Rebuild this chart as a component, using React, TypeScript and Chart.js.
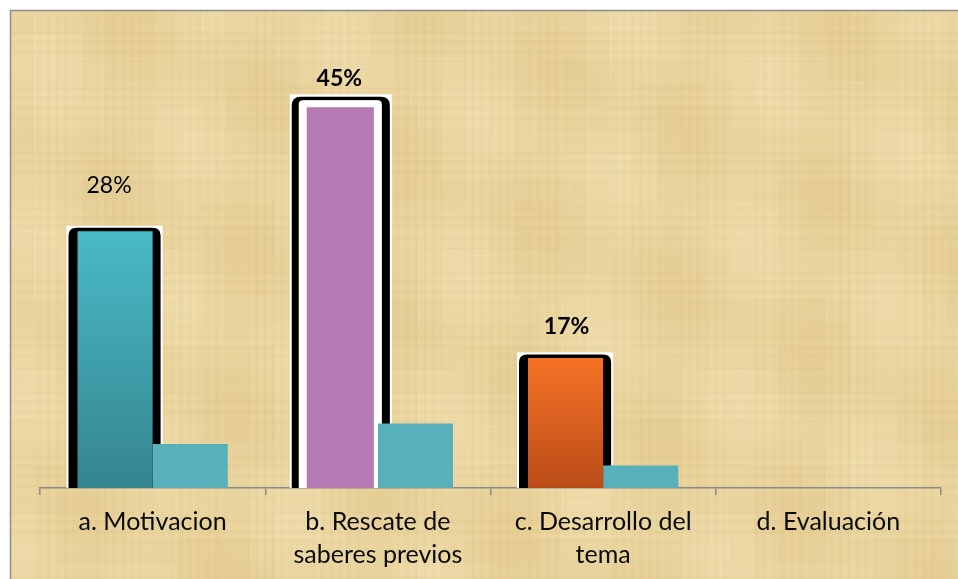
import { useEffect, useRef } from "react";
import { Chart, registerables } from "chart.js";

Chart.register(...registerables);

// ---- data ----
const categories = [
  ["a. Motivacion"],
  ["b. Rescate de", "saberes previos"],
  ["c. Desarrollo del", "tema"],
  ["d. Evaluación"],
];
const mainValues = [29.8, 45.0, 15.1, null];
const secondValues = [5.1, 7.5, 2.6, null];
const mainLabels = ["28%", "45%", "17%", ""];
const labelBold = [false, true, true, false];

// ---- styles ----
const mainFills: (string[] | null)[] = [
  ["#49bac7", "#35858f"],
  ["#b57ab4", "#b57ab4"],
  ["#f57226", "#bb4c19"],
  null,
];
const secondColor = "#58b0bb";
const labelOffsets = [
  { dx: -6, dy: -46 },
  { dx: -1, dy: -22 },
  { dx: 1, dy: -31 },
  { dx: 0, dy: -20 },
];
const FONT = "Lato, 'Open Sans', sans-serif";

function drawParchment(ctx: CanvasRenderingContext2D, x: number, y: number, w: number, h: number) {
  ctx.fillStyle = "#ecd7a2";
  ctx.fillRect(x, y, w, h);
  const B = 24;
  for (let bx = 0; bx < w; bx += B) {
    for (let by = 0; by < h; by += B) {
      const v = Math.sin(bx * 0.013 + by * 0.021) * Math.cos(bx * 0.031 - by * 0.017);
      ctx.fillStyle = v > 0 ? `rgba(255,244,210,${v * 0.22})` : `rgba(205,165,85,${-v * 0.12})`;
      ctx.fillRect(x + bx, y + by, B, B);
    }
  }
  for (let i = 0; i < w; i += 2) {
    const a = 0.035 + 0.05 * Math.sin(i * 0.71) * Math.sin(i * 0.043);
    if (a > 0) {
      ctx.fillStyle = `rgba(165,125,55,${a})`;
      ctx.fillRect(x + i, y, 1, h);
    }
  }
  for (let j = 0; j < h; j += 2) {
    const a = 0.035 + 0.05 * Math.sin(j * 0.63) * Math.sin(j * 0.051);
    if (a > 0) {
      ctx.fillStyle = `rgba(165,125,55,${a})`;
      ctx.fillRect(x, y + j, w, 1);
    }
  }
}

const backgroundPlugin = {
  id: "parchment",
  beforeDraw(chart: any) {
    const ctx = chart.ctx as CanvasRenderingContext2D;
    ctx.save();
    ctx.fillStyle = "#ffffff";
    ctx.fillRect(0, 0, chart.width, chart.height);
    drawParchment(ctx, 10, 10, chart.width - 10, chart.height - 10);
    ctx.strokeStyle = "#8c8c8c";
    ctx.lineWidth = 1.5;
    ctx.beginPath();
    ctx.moveTo(10.5, chart.height);
    ctx.lineTo(10.5, 10.5);
    ctx.lineTo(chart.width, 10.5);
    ctx.stroke();
    ctx.restore();
  },
};

function roundTopRect(ctx: CanvasRenderingContext2D, x0: number, y0: number, x1: number, y1: number, r: number) {
  ctx.beginPath();
  ctx.moveTo(x0, y1);
  ctx.lineTo(x0, y0 + r);
  ctx.quadraticCurveTo(x0, y0, x0 + r, y0);
  ctx.lineTo(x1 - r, y0);
  ctx.quadraticCurveTo(x1, y0, x1, y0 + r);
  ctx.lineTo(x1, y1);
  ctx.closePath();
}

const framePlugin = {
  id: "barFrames",
  beforeDatasetsDraw(chart: any) {
    const meta = chart.getDatasetMeta(0);
    const ctx = chart.ctx as CanvasRenderingContext2D;
    ctx.save();
    meta.data.forEach((el: any, i: number) => {
      if (mainValues[i] == null) return;
      const x0 = el.x - el.width / 2;
      const x1 = el.x + el.width / 2;
      const top = el.y;
      const base = el.base;
      if (i === 1) {
        ctx.fillStyle = "#ffffff";
        ctx.fillRect(x0 - 13, top - 6, x1 - x0 + 27, base - top + 6);
        ctx.fillStyle = "#000000";
        roundTopRect(ctx, x0 - 11, top - 3.5, x1 + 12, base, 9);
        ctx.fill();
        ctx.fillStyle = "#ffffff";
        roundTopRect(ctx, x0 - 4, top, x1 + 4, base, 4);
        ctx.fill();
      } else {
        ctx.fillStyle = "#ffffff";
        ctx.fillRect(x0 - 11, top - 5.5, x1 - x0 + 21, base - top + 5.5);
        ctx.fillStyle = "#000000";
        roundTopRect(ctx, x0 - 9, top - 3.5, x1 + 8, base, 8);
        ctx.fill();
      }
    });
    ctx.restore();
  },
  afterDatasetsDraw(chart: any) {
    const meta = chart.getDatasetMeta(0);
    const ctx = chart.ctx as CanvasRenderingContext2D;
    ctx.save();
    ctx.fillStyle = "#000000";
    ctx.textAlign = "center";
    ctx.textBaseline = "middle";
    meta.data.forEach((el: any, i: number) => {
      const txt = mainLabels[i];
      if (!txt) return;
      ctx.font = `${labelBold[i] ? "bold " : ""}23px ${FONT}`;
      const off = labelOffsets[i];
      ctx.fillText(txt, el.x + off.dx, el.y + off.dy);
    });
    ctx.restore();
  },
};

export default function App() {
  const ref = useRef<HTMLCanvasElement | null>(null);

  useEffect(() => {
    document.body.style.margin = "0";
    const canvas = ref.current;
    if (!canvas) return;
    const chart = new Chart(canvas, {
      type: "bar",
      data: {
        labels: categories as any,
        datasets: [
          {
            label: "Serie 1",
            data: mainValues as any,
            backgroundColor: (c: any) => {
              const i = c.dataIndex;
              const stops = i == null ? null : mainFills[i];
              const chartRef = c.chart;
              if (!stops || !chartRef.chartArea || mainValues[i] == null) return "#49bac7";
              const ys = chartRef.scales.y;
              const g = chartRef.ctx.createLinearGradient(0, ys.getPixelForValue(mainValues[i]), 0, ys.getPixelForValue(0));
              g.addColorStop(0, stops[0]);
              g.addColorStop(1, stops[1]);
              return g;
            },
            borderColor: "#ffffff",
            borderWidth: (c: any) => (c.dataIndex === 1 ? { top: 7, left: 4, right: 4, bottom: 0 } : 0),
            borderSkipped: "start",
            barPercentage: 1,
            categoryPercentage: 0.667,
          },
          {
            label: "Serie 2",
            data: secondValues as any,
            backgroundColor: secondColor,
            borderWidth: 0,
            barPercentage: 1,
            categoryPercentage: 0.667,
          },
        ],
      },
      options: {
        responsive: false,
        animation: false,
        layout: { padding: { left: 40, right: 17, top: 40, bottom: 0 } },
        plugins: {
          legend: { display: false },
          tooltip: { enabled: false },
        },
        scales: {
          x: {
            afterFit: (s: any) => {
              s.height = 91;
            },
            grid: {
              display: true,
              drawOnChartArea: false,
              drawTicks: true,
              tickLength: 7,
              color: "#8c8c8c",
              lineWidth: 1.5,
              offset: true,
            },
            border: { display: true, color: "#8c8c8c", width: 1.5 },
            ticks: {
              color: "#0a0a0a",
              padding: 11,
              maxRotation: 0,
              autoSkip: false,
              font: { family: FONT, size: 25, lineHeight: 1.3 },
            },
          },
          y: {
            display: false,
            min: 0,
            max: 52,
          },
        },
      },
      plugins: [backgroundPlugin, framePlugin],
    });
    return () => chart.destroy();
  }, []);

  return (
    <div style={{ position: "absolute", left: 0, top: 0, width: 958, height: 579 }}>
      <canvas ref={ref} width={958} height={579} style={{ width: 958, height: 579, display: "block" }} />
    </div>
  );
}
